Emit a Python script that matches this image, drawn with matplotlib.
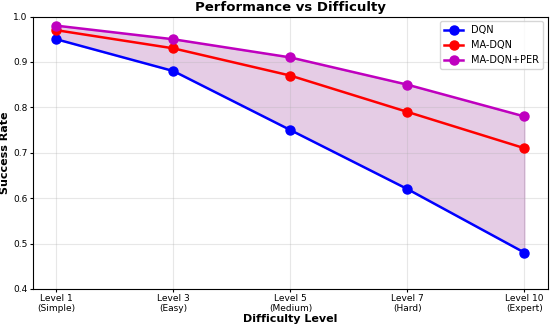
import numpy as np
import matplotlib
matplotlib.use('Agg')
import matplotlib.pyplot as plt

levels = ['Level 1\n(Simple)', 'Level 3\n(Easy)', 'Level 5\n(Medium)', 'Level 7\n(Hard)', 'Level 10\n(Expert)']
dqn = [0.95, 0.88, 0.75, 0.62, 0.48]
ma_dqn = [0.97, 0.93, 0.87, 0.79, 0.71]
ma_dqn_per = [0.98, 0.95, 0.91, 0.85, 0.78]

x = np.arange(len(levels))

fig = plt.figure(figsize=(5.5, 3.25), dpi=100)
ax = fig.add_axes([0.06, 0.111, 0.936, 0.838])

ax.plot(x, dqn, '-o', color='blue', lw=1.8, ms=6.5, label='DQN')
ax.plot(x, ma_dqn, '-o', color='red', lw=1.8, ms=6.5, label='MA-DQN')
ax.plot(x, ma_dqn_per, '-o', color='m', lw=1.8, ms=6.5, label='MA-DQN+PER')
ax.fill_between(x, dqn, ma_dqn_per, color='purple', alpha=0.2)

ax.set_ylim(0.4, 1.0)
ax.set_xticks(x)
ax.set_xticklabels(levels, fontsize=6.5, linespacing=1.05)
ax.tick_params(axis='both', labelsize=6.5, length=2.5, pad=1.5)
ax.set_xlabel('Difficulty Level', fontsize=8, fontweight='bold', labelpad=1)
ax.set_ylabel('Success Rate', fontsize=8, fontweight='bold', labelpad=2)
ax.set_title('Performance vs Difficulty', fontsize=9.5, fontweight='bold', pad=4)
ax.grid(True, alpha=0.3)
ax.legend(fontsize=7, loc='upper right')

fig.savefig('out.png', dpi=100)
